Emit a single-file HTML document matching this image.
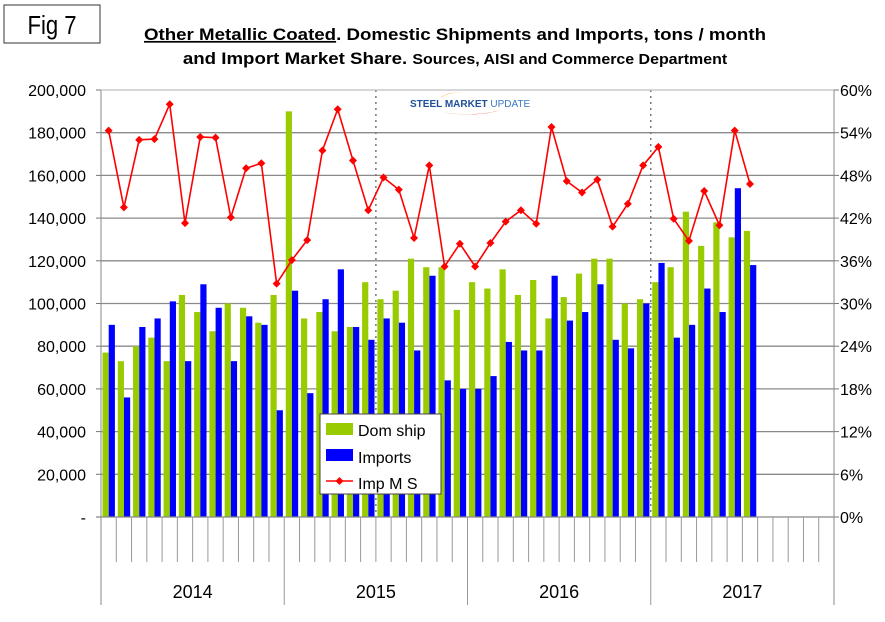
<!DOCTYPE html>
<html><head><meta charset="utf-8"><style>
body{margin:0;background:#fff;}
svg{display:block;font-family:"Liberation Sans",Arial,sans-serif;}
</style></head><body>
<svg id="chart" width="885" height="622" viewBox="0 0 885 622" xmlns="http://www.w3.org/2000/svg">
<rect x="4" y="5" width="96" height="38" fill="#fff" stroke="#333" stroke-width="1"/>
<text x="52" y="34" font-size="26" text-anchor="middle" transform="translate(52,0) scale(0.85,1) translate(-52,0)">Fig 7</text>
<text x="455" y="40" font-size="17" font-weight="bold" text-anchor="middle" transform="translate(455,0) scale(1.1,1) translate(-455,0)"><tspan text-decoration="underline">Other Metallic Coated</tspan>. Domestic Shipments and Imports, tons / month</text>
<text x="455" y="64" font-size="17" font-weight="bold" text-anchor="middle" transform="translate(455,0) scale(1.1,1) translate(-455,0)">and Import Market Share.   <tspan font-size="14.5">Sources, AISI and Commerce Department</tspan></text>
<g id="grid"></g>
<g id="logo">
<path d="M440 98 A 30 14 0 0 1 460 92 A 26 12 0 0 0 440 98Z" fill="#f39c20"/>
<path d="M442 112 A 40 10 0 0 0 500 110 A 36 8 0 0 1 442 112Z" fill="#e05a20"/>
<text x="410" y="107" font-size="10" font-weight="bold" fill="#1f4f99">STEEL <tspan fill="#1f4f99">MARKET</tspan> <tspan font-weight="normal" fill="#3a78c0">UPDATE</tspan></text>
</g>
<g id="bars"></g>
<g id="line"></g>
<g id="axes"></g>
<g>
<rect x="320" y="414" width="121" height="80" fill="#fff" stroke="#444"/>
<rect x="326" y="423" width="27" height="12" fill="#99cc00"/>
<text x="358" y="436" font-size="16">Dom ship</text>
<rect x="326" y="449" width="27" height="12" fill="#0000ff"/>
<text x="358" y="463" font-size="16">Imports</text>
<line x1="326" y1="481" x2="353" y2="481" stroke="#ff0000" stroke-width="1.5"/>
<path d="M339.5 477 L343.5 481 L339.5 485 L335.5 481Z" fill="#ff0000"/>
<text x="358" y="489" font-size="16">Imp M S</text>
</g>
</svg>
<script>
const years = ["2014","2015","2016","2017"];
const domShip = [77,73,80,84,73,104,96,87,100,98,91,104,
 190,93,96,87,89,110,102,106,121,117,117,97,
 110,107,116,104,111,93,103,114,121,121,100,102,
 110,117,143,127,138,131,134];
const imports = [90,56,89,93,101,73,109,98,73,94,90,50,
 106,58,102,116,89,83,93,91,78,113,64,60,
 60,66,82,78,78,113,92,96,109,83,79,100,
 119,84,90,107,96,154,118];
const impShare = [54.3,43.5,53,53.1,58,41.3,53.4,53.3,42.1,49,49.7,32.8,
 36.1,38.9,51.5,57.3,50.1,43.1,47.7,46,39.2,49.4,35.2,38.4,
 35.2,38.5,41.5,43.1,41.2,54.8,47.2,45.6,47.4,40.8,44,49.4,
 52,41.9,38.8,45.8,41,54.3,46.8];
const leftTicks = ["-","20,000","40,000","60,000","80,000","100,000","120,000","140,000","160,000","180,000","200,000"];
const rightTicks = ["0%","6%","12%","18%","24%","30%","36%","42%","48%","54%","60%"];

const NS="http://www.w3.org/2000/svg";
const X0=101,X1=834,Y0=517,Y1=90,N=48;
const slot=(X1-X0)/N;
const yL=v=>Y0-(v/200)*(Y0-Y1);
const yR=v=>Y0-(v/60)*(Y0-Y1);
const xs=i=>X0+i*slot;
function mk(t,a,p){const e=document.createElementNS(NS,t);for(const k in a)e.setAttribute(k,a[k]);p.appendChild(e);return e;}
const grid=document.getElementById('grid'),bars=document.getElementById('bars'),line=document.getElementById('line'),axes=document.getElementById('axes');
for(let i=0;i<leftTicks.length;i++){
 const y=Y0-i*(Y0-Y1)/10;
 if(i>0){const g=mk('line',{x1:X0,x2:X1,y1:y,y2:y,stroke:'#8a8a8a','stroke-width':1.3},grid);
 
 }
 const t=mk('text',{x:86,y:y+6,'font-size':16,'text-anchor':'end'},axes);t.textContent=leftTicks[i];
 
 
 const r=mk('text',{x:840,y:y+6,'font-size':16},axes);r.textContent=rightTicks[i];
 
 
 mk('line',{x1:96,x2:X0,y1:y,y2:y,stroke:'#777'},axes);
 mk('line',{x1:X1,x2:X1+5,y1:y,y2:y,stroke:'#777'},axes);
}
[18,36].forEach(i=>{const d=mk('line',{x1:xs(i),x2:xs(i),y1:Y1,y2:Y0,stroke:'#777','stroke-dasharray':'2,4','stroke-width':1.5},grid);
 
 });
for(let i=0;i<domShip.length;i++){
 const x=xs(i)+1.5;
 const g=mk('rect',{x:x,y:yL(domShip[i]),width:6.2,height:Y0-yL(domShip[i]),fill:'#99cc00'},bars);
 
 
 const b=mk('rect',{x:x+6.2,y:yL(imports[i]),width:6.2,height:Y0-yL(imports[i]),fill:'#0000ff'},bars);
 
 
}
let pts=impShare.map((v,i)=>[xs(i)+slot/2,yR(v)]);
const pl=mk('polyline',{points:pts.map(p=>p.join(',')).join(' '),fill:'none',stroke:'#ff0000','stroke-width':1.6},line);


pts.forEach(p=>{const m=mk('path',{d:`M${p[0]} ${p[1]-4}L${p[0]+4} ${p[1]}L${p[0]} ${p[1]+4}L${p[0]-4} ${p[1]}Z`,fill:'#ff0000'},line);
 
 });
mk('line',{x1:X0,x2:X0,y1:Y1,y2:605,stroke:'#888'},axes);
mk('line',{x1:X1,x2:X1,y1:Y1,y2:605,stroke:'#888'},axes);
mk('line',{x1:96,x2:X1,y1:Y0,y2:Y0,stroke:'#888','stroke-width':1.3},axes);
mk('line',{x1:X0,x2:X1,y1:Y1,y2:Y1,stroke:'#ccc'},axes);
for(let i=1;i<N;i++){const big=i%12===0;
 mk('line',{x1:xs(i),x2:xs(i),y1:Y0,y2:big?605:562,stroke:'#999'},axes);}
years.forEach((y,k)=>{const t=mk('text',{x:X0+(k*12+6)*slot,y:598,'font-size':18,'text-anchor':'middle'},axes);t.textContent=y;
 
 });
</script>
</body></html>
